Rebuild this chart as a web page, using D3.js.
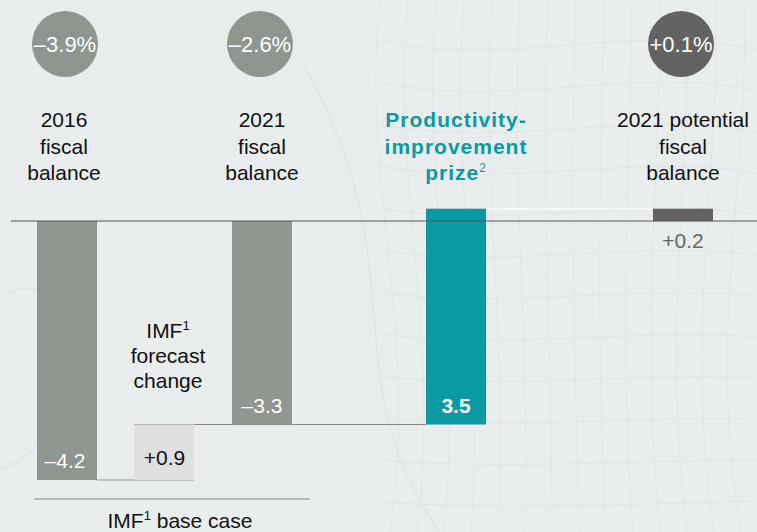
<!DOCTYPE html>
<html>
<head>
<meta charset="utf-8">
<script src="https://cdn.jsdelivr.net/npm/d3@7"></script>
<style>
  html, body { margin: 0; padding: 0; background: #e9edee; }
  svg { display: block; font-family: Arial, "Liberation Sans", sans-serif; }
</style>
</head>
<body>
<div id="chart"></div>
<script>
const categories = ["2016 fiscal balance", "IMF forecast change", "2021 fiscal balance", "Productivity-improvement prize", "2021 potential fiscal balance"];
const values = [-4.2, 0.9, -3.3, 3.5, 0.2];
const isTotal = [true, false, true, false, true];
const valueLabels = ["–4.2", "+0.9", "–3.3", "3.5", "+0.2"];
const circleLabels = ["–3.9%", null, "–2.6%", null, "+0.1%"];
const headerLines = [
  ["2016", "fiscal", "balance"],
  null,
  ["2021", "fiscal", "balance"],
  ["Productivity-", "improvement", "prize"],
  ["2021 potential", "fiscal", "balance"],
];

const width = 757, height = 532;
const svg = d3.select("#chart").append("svg").attr("width", width).attr("height", height);

// faint background pattern
const bg = svg.append("g").attr("fill", "none").attr("stroke", "#dfe5e7").attr("stroke-width", 1);
for (let i = 0; i < 14; i++) {
  bg.append("path").attr("d", `M${380 + i * 28},0 C${360 + i * 30},180 ${420 + i * 22},330 ${390 + i * 27},532`);
}
for (let i = 0; i < 12; i++) {
  bg.append("path").attr("d", `M380,${40 + i * 42} C500,${70 + i * 40} 640,${20 + i * 44} 757,${50 + i * 41}`);
}
bg.append("path").attr("d", "M0,300 C60,240 120,420 0,470").attr("stroke-width", 1.5);
bg.append("path").attr("d", "M300,60 C420,260 330,380 440,532").attr("stroke-width", 1.5);

// waterfall steps
let run = 0;
const steps = values.map((v, i) => {
  const start = isTotal[i] ? 0 : run;
  const end = isTotal[i] ? v : run + v;
  run = end;
  return { key: categories[i], v, start, end, total: isTotal[i], i };
});

const y = d3.scaleLinear().domain([0.2, -4.2]).range([208.7, 480]);
const x = d3.scaleOrdinal().domain(categories).range([67, 164.5, 262, 456, 683]);
const bw = 60;
const color = ["#8e968f", "#e0e0e0", "#8e968f", "#0a9aa4", "#636363"];

// connectors
const conn = svg.append("g");
conn.append("line").attr("x1", x(categories[0]) + bw / 2).attr("x2", x(categories[1]) + bw / 2)
  .attr("y1", y(steps[0].end)).attr("y2", y(steps[0].end)).attr("stroke", "#999").attr("stroke-width", 1);
conn.append("line").attr("x1", x(categories[1]) - bw / 2).attr("x2", x(categories[3]) - bw / 2)
  .attr("y1", y(steps[1].end)).attr("y2", y(steps[1].end)).attr("stroke", "#888").attr("stroke-width", 1);
conn.append("line").attr("x1", x(categories[3]) + bw / 2).attr("x2", x(categories[4]) - bw / 2)
  .attr("y1", y(steps[3].end)).attr("y2", y(steps[3].end)).attr("stroke", "#f7f8f8").attr("stroke-width", 2);

// bars
svg.append("g").selectAll("rect").data(steps).join("rect")
  .attr("x", d => x(d.key) - bw / 2)
  .attr("width", bw)
  .attr("y", d => y(Math.max(d.start, d.end)))
  .attr("height", d => Math.abs(y(d.start) - y(d.end)))
  .attr("fill", d => color[d.i]);

// zero line
svg.append("line").attr("x1", 11).attr("x2", width).attr("y1", y(0)).attr("y2", y(0))
  .attr("stroke", "#555").attr("stroke-width", 1);

// value labels
const vl = svg.append("g").attr("font-size", 21).attr("text-anchor", "middle");
vl.selectAll("text").data(steps).join("text")
  .attr("x", d => x(d.key) + (d.i === 0 ? -2 : 0))
  .attr("y", d => {
    if (d.i === 4) return y(0) + 27;
    if (d.i === 1) return y(d.start) - 15;
    return y(Math.min(d.start, d.end)) - 12;
  })
  .attr("fill", d => d.i === 1 ? "#111" : d.i === 4 ? "#666" : "#fff")
  .attr("font-weight", d => d.i === 3 ? "bold" : null)
  .text(d => valueLabels[d.i]);

// circles
const circ = svg.append("g");
steps.filter(d => circleLabels[d.i]).forEach(d => {
  circ.append("circle").attr("cx", x(d.key) - 2).attr("cy", 44).attr("r", 33)
    .attr("fill", d.i === 4 ? "#636363" : "#8e968f");
  circ.append("text").attr("x", x(d.key) - 2).attr("y", 52).attr("text-anchor", "middle")
    .attr("font-size", 22).attr("fill", "#fff").text(circleLabels[d.i]);
});

// headers
const hdr = svg.append("g").attr("text-anchor", "middle").attr("font-size", 21);
steps.forEach(d => {
  const lines = headerLines[d.i];
  if (!lines) return;
  const t = hdr.append("text").attr("x", x(d.key) + (d.i === 0 ? -3 : 0))
    .attr("fill", d.i === 3 ? "#0a9aa4" : "#111")
    .attr("font-weight", d.i === 3 ? "bold" : null)
    .attr("letter-spacing", d.i === 3 ? 1 : null);
  lines.forEach((ln, j) => {
    t.append("tspan").attr("x", x(d.key) + (d.i === 0 ? -3 : 0)).attr("y", 127 + j * 26.5).text(ln);
    if (d.i === 3 && j === 2) t.append("tspan").attr("font-size", 12).attr("dy", -8).attr("font-weight", "normal").text("2");
  });
});

// IMF forecast change annotation
const imf = svg.append("text").attr("text-anchor", "middle").attr("font-size", 21).attr("fill", "#111");
[["IMF", "1"], ["forecast"], ["change"]].forEach((ln, j) => {
  imf.append("tspan").attr("x", 168).attr("y", 338 + j * 25).text(ln[0]);
  if (ln[1]) imf.append("tspan").attr("font-size", 13).attr("dy", -8).text(ln[1]);
});

// base case bracket
svg.append("line").attr("x1", 34).attr("x2", 310).attr("y1", 499).attr("y2", 499)
  .attr("stroke", "#888").attr("stroke-width", 1);
const base = svg.append("text").attr("x", 180).attr("y", 528).attr("text-anchor", "middle")
  .attr("font-size", 21).attr("fill", "#111");
base.append("tspan").text("IMF");
base.append("tspan").attr("font-size", 13).attr("dy", -8).text("1");
base.append("tspan").attr("dy", 8).text(" base case");
</script>
</body>
</html>
